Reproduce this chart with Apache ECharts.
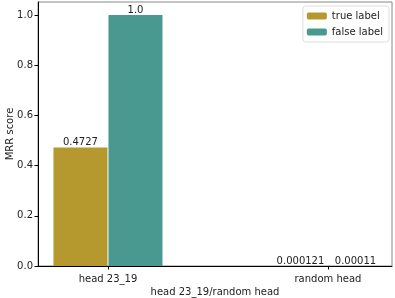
<!DOCTYPE html>
<html>
<head>
<meta charset="utf-8">
<script src="https://cdn.jsdelivr.net/npm/echarts@6/dist/echarts.min.js"></script>
<style>html,body{margin:0;padding:0;background:#fff}#c{width:395px;height:298px}</style>
</head>
<body>
<div id="c"></div>
<script>
const categories = ['head 23_19', 'random head'];
const seriesNames = ['true label', 'false label'];
const trueValues = [0.4727, 0.000121];
const falseValues = [1.0, 0.00011];
const trueLabels = ['0.4727', '0.000121'];
const falseLabels = ['1.0', '0.00011'];
const yTicks = [0, 0.2, 0.4, 0.6, 0.8, 1.0];
const colors = ['#b5992e', '#4a9990'];

const font = 'DejaVu Sans';
const chart = echarts.init(document.getElementById('c'), null, {renderer: 'canvas'});
function mk(values, labels, offset) {
  return values.map((v, i) => ({value: [i + offset, v], label: {formatter: labels[i]}}));
}
chart.setOption({
  animation: false,
  textStyle: {fontFamily: font},
  grid: {left: 38, right: 3, top: 2, bottom: 32, show: true, borderColor: '#888', borderWidth: 1, containLabel: false, outerBoundsMode: 'none'},
  legend: {
    right: 6, top: 6, orient: 'vertical', itemWidth: 20, itemHeight: 7, itemGap: 6,
    padding: [5, 6, 5, 4], borderColor: '#ddd', borderWidth: 1, borderRadius: 3,
    textStyle: {fontFamily: font, fontSize: 10, color: '#222'},
    data: seriesNames
  },
  xAxis: {
    type: 'value', min: -0.318, max: 1.291,
    name: 'head 23_19/random head', nameLocation: 'middle', nameGap: 20, nameMoveOverlap: false,
    nameTextStyle: {fontFamily: font, fontSize: 10, color: '#222', verticalAlign: 'top', lineHeight: 12},
    axisLine: {show: true, onZero: false, lineStyle: {color: '#000', width: 1}},
    axisTick: {show: true, customValues: [0, 1], length: 3.5, lineStyle: {color: '#000'}},
    axisLabel: {customValues: [0, 1], formatter: v => categories[Math.round(v)], fontFamily: font, fontSize: 10, color: '#222', margin: 8},
    splitLine: {show: false}
  },
  yAxis: {
    type: 'value', min: 0, max: 1.052,
    name: 'MRR score', nameLocation: 'middle', nameGap: 23, nameRotate: 90, nameMoveOverlap: false,
    nameTextStyle: {fontFamily: font, fontSize: 10, color: '#222'},
    axisLine: {show: true, onZero: false, lineStyle: {color: '#000', width: 1}},
    axisTick: {show: true, customValues: yTicks, length: 3.5, lineStyle: {color: '#000'}},
    axisLabel: {customValues: yTicks, formatter: v => v.toFixed(1), fontFamily: font, fontSize: 10, color: '#222', margin: 5},
    splitLine: {show: false}
  },
  series: [
    {name: seriesNames[0], type: 'bar', barWidth: 54, barGap: '-100%', itemStyle: {color: colors[0]},
     label: {show: true, position: 'top', distance: 0, fontFamily: font, fontSize: 10, color: '#222'},
     data: mk(trueValues, trueLabels, -0.125)},
    {name: seriesNames[1], type: 'bar', barWidth: 54, barGap: '-100%', itemStyle: {color: colors[1]},
     label: {show: true, position: 'top', distance: 0, fontFamily: font, fontSize: 10, color: '#222'},
     data: mk(falseValues, falseLabels, 0.125)}
  ]
});
</script>
</body>
</html>
